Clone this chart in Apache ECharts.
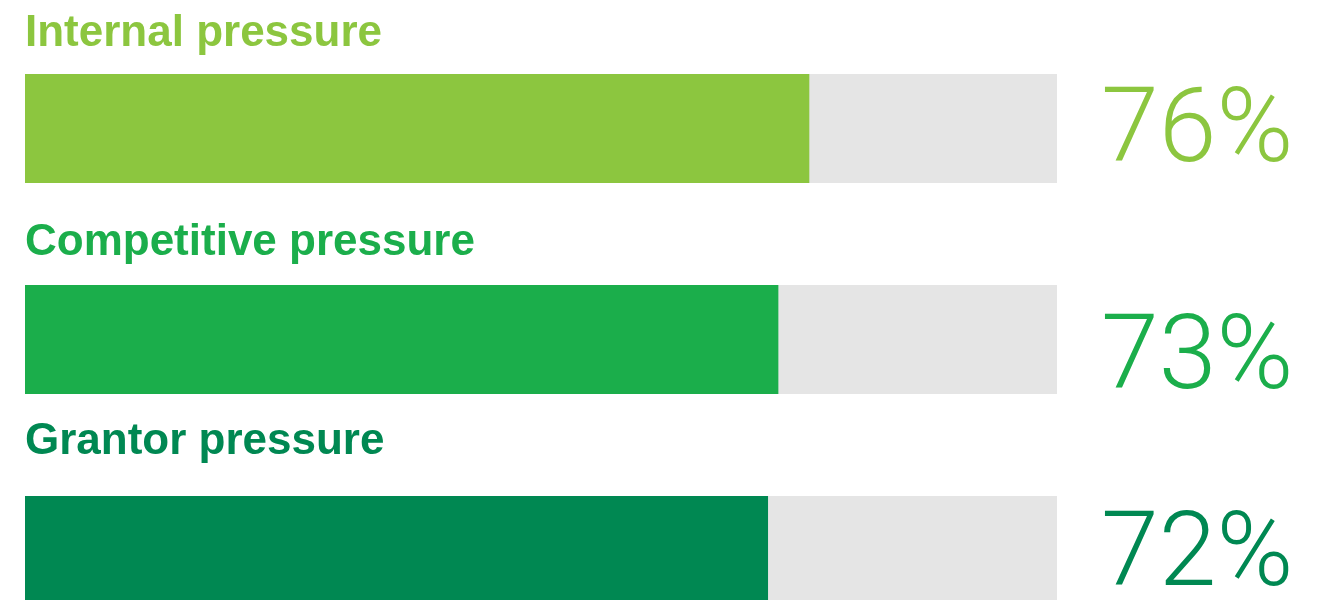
<!DOCTYPE html>
<html>
<head>
<meta charset="utf-8">
<script src="https://cdn.jsdelivr.net/npm/echarts@6/dist/echarts.min.js"></script>
<style>
  html, body { margin: 0; padding: 0; background: #fff; }
  #chart { width: 1321px; height: 600px; }
</style>
</head>
<body>
<div id="chart"></div>
<script>
// data
const categories = ['Internal pressure', 'Competitive pressure', 'Grantor pressure'];
const values = [76, 73, 72];
const pctLabels = values.map((v) => v + '%');

// styling
const barColors = ['#8CC63F', '#1BAE4B', '#008852'];
const trackColor = '#E5E5E5';
// small per-row tweaks so the titles / percents sit where the original has them
const titleLift = [40, 42, 54];
const pctShift = [6, 22, 8];

const chart = echarts.init(document.getElementById('chart'));

// one rich style per row so each percent can take its own colour / nudge
const pctRich = {};
pctLabels.forEach((_, i) => {
  const dy = pctShift[i];
  pctRich['p' + i] = {
    color: barColors[i],
    fontSize: 104,
    fontFamily: 'Roboto, "Liberation Sans", sans-serif',
    fontWeight: 300,
    padding: dy >= 0 ? [dy * 2, 0, 0, 0] : [0, 0, -dy * 2, 0],
  };
});

chart.setOption({
  animation: false,
  // first/last rows sit on the grid edges (boundaryGap off) so the
  // third bar can run past the bottom of the page like the original
  grid: { left: 25, right: 264, top: 128.5, height: 422, outerBoundsMode: 'none', containLabel: false },
  xAxis: { type: 'value', min: 0, max: 100, show: false },
  yAxis: [
    {
      type: 'category',
      inverse: true,
      boundaryGap: false,
      data: categories,
      axisLine: { show: false },
      axisTick: { show: false },
      axisLabel: { show: false },
      splitLine: { show: false },
    },
    {
      type: 'category',
      inverse: true,
      boundaryGap: false,
      position: 'right',
      data: pctLabels,
      axisLine: { show: false },
      axisTick: { show: false },
      splitLine: { show: false },
      axisLabel: {
        margin: 44,
        formatter: (val, idx) => `{p${idx}|${val}}`,
        rich: pctRich,
      },
    },
  ],
  series: [
    {
      type: 'bar',
      yAxisIndex: 0,
      barWidth: 109,
      clip: false,
      showBackground: true,
      backgroundStyle: { color: trackColor },
      data: values.map((v, i) => ({
        value: v,
        itemStyle: { color: barColors[i] },
        label: { color: barColors[i], position: [0, -titleLift[i]] },
      })),
      label: {
        show: true,
        formatter: '{b}',
        align: 'left',
        verticalAlign: 'middle',
        fontSize: 44,
        fontWeight: 'bold',
        fontFamily: '"Liberation Sans", Arial, sans-serif',
      },
    },
  ],
});

window.addEventListener('resize', () => chart.resize());
</script>
</body>
</html>
